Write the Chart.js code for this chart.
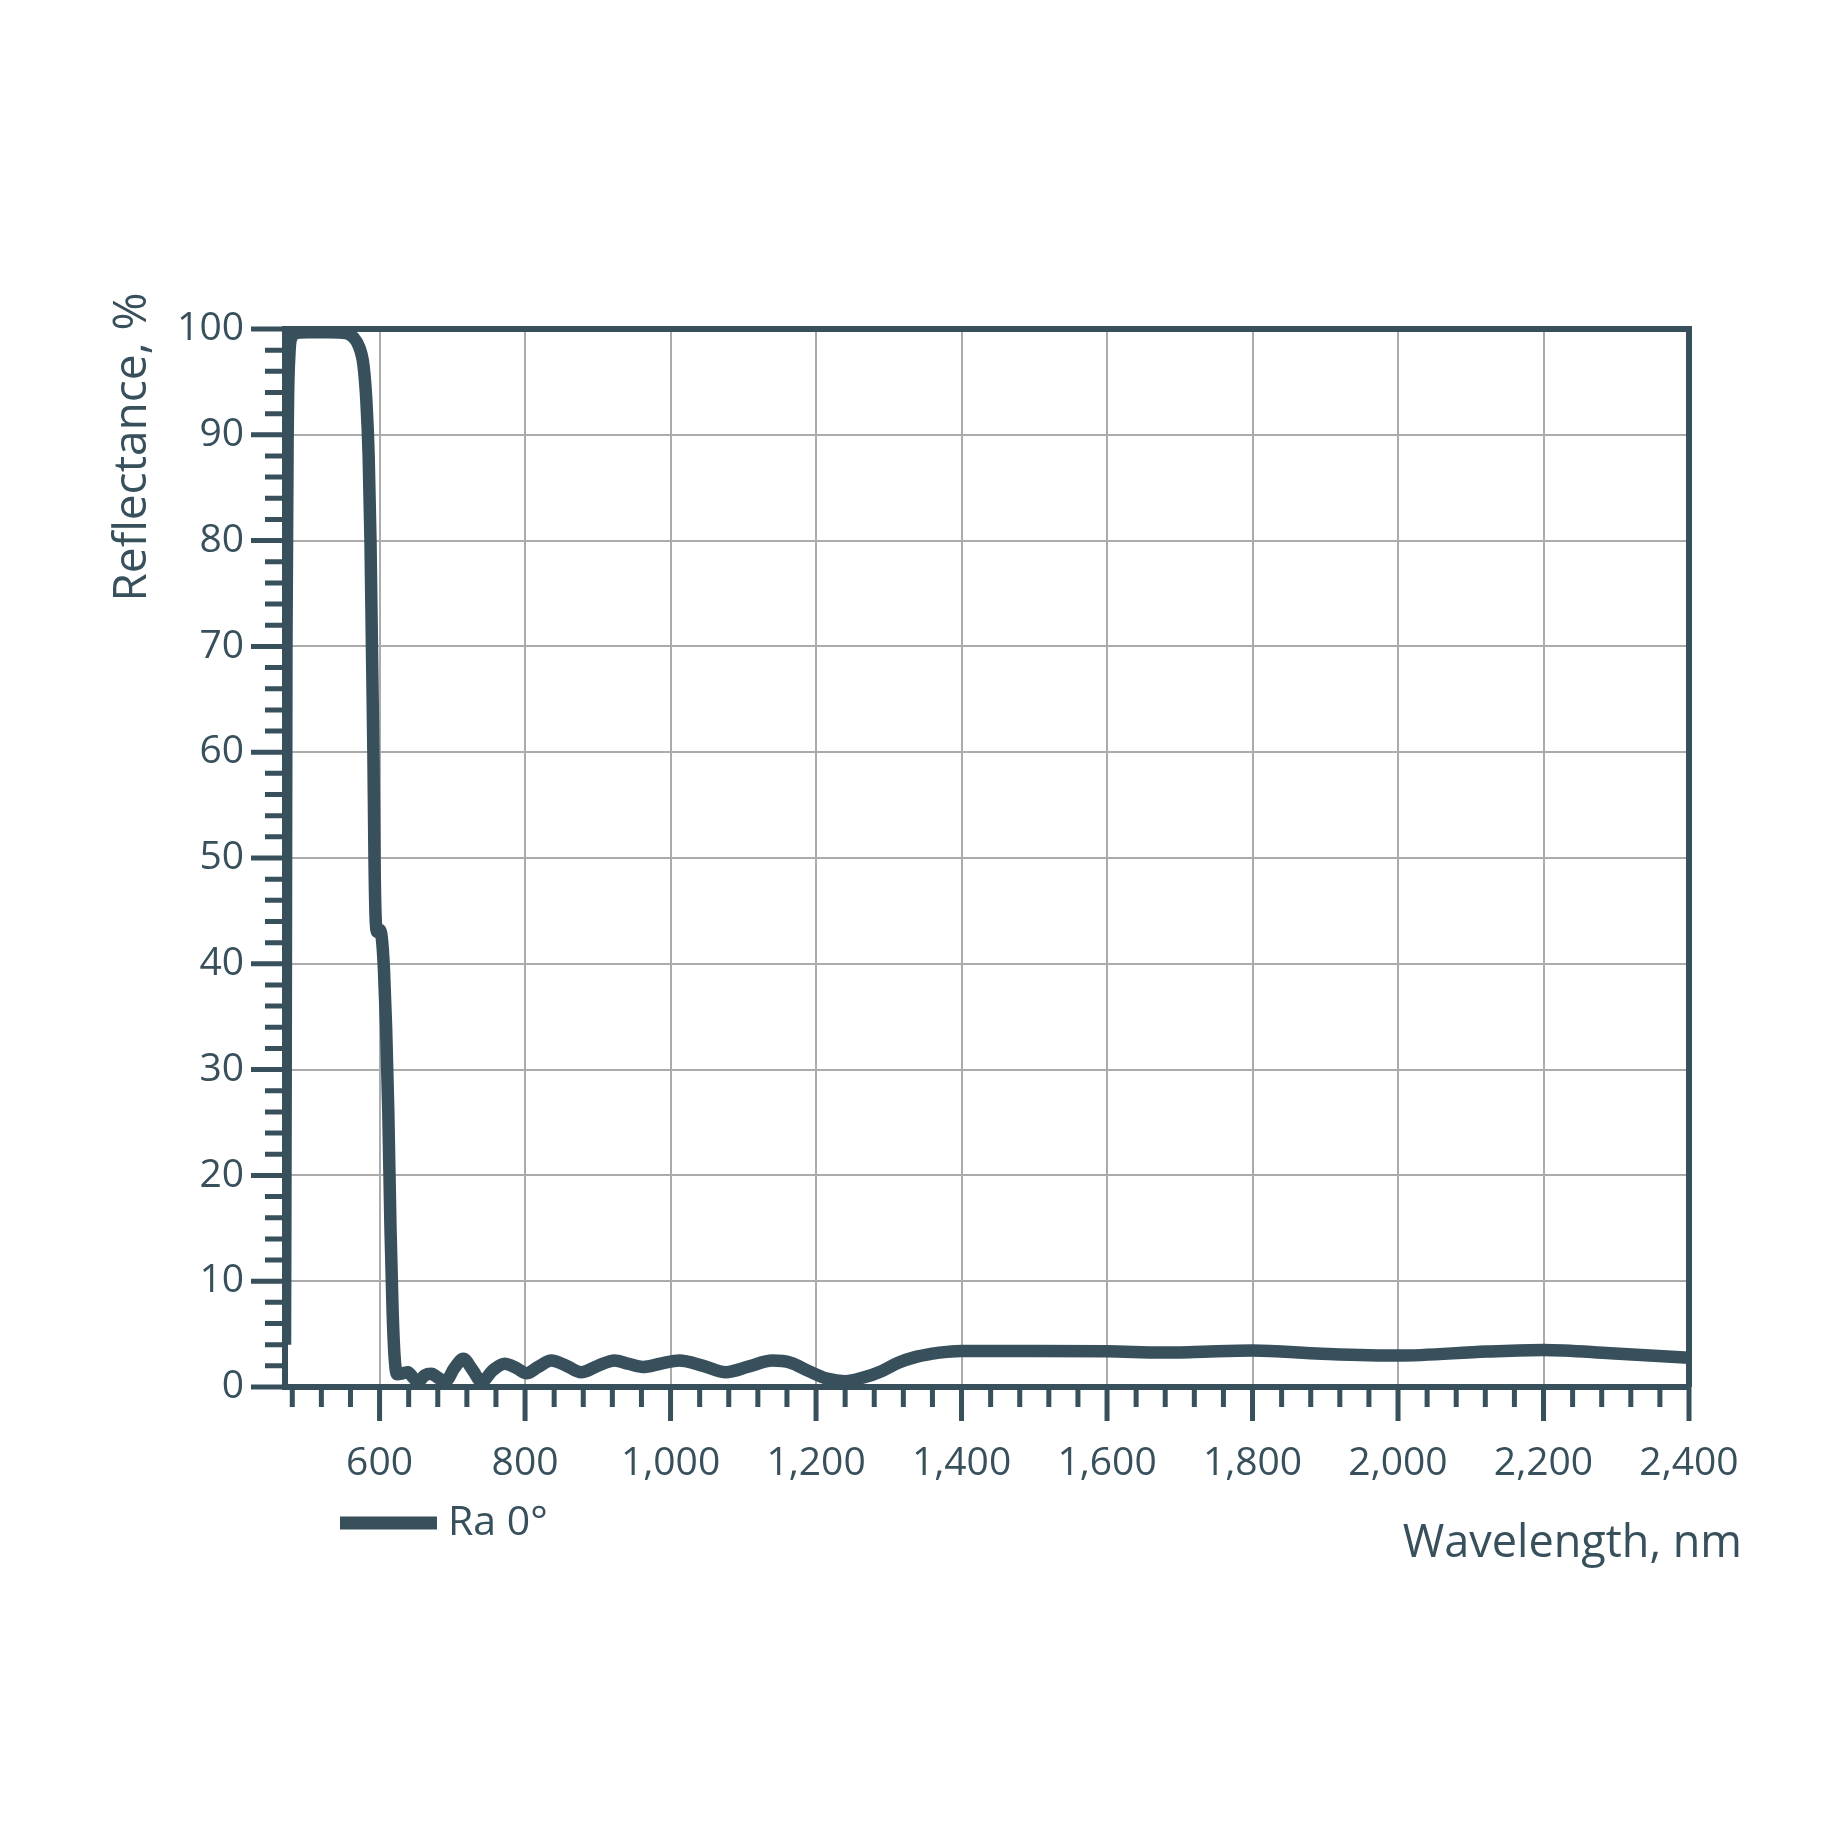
<!DOCTYPE html>
<html>
<head>
<meta charset="utf-8">
<title>Reflectance</title>
<script src="https://cdn.jsdelivr.net/npm/chart.js@4.4.1/dist/chart.umd.min.js"></script>
<style>
  html, body { margin: 0; padding: 0; background: #ffffff; }
  #wrap { width: 1848px; height: 1848px; }
</style>
</head>
<body>
<div id="wrap"><canvas id="reflectance-chart" width="1848" height="1848"></canvas></div>
<script>
// Wavelength (nm) and reflectance (%)
const wavelength = [
  470, 471, 472, 474, 476, 479, 484, 500, 530, 555, 564, 572, 578, 582, 585,
  587.5, 589.5, 591.5, 593, 594.5, 597, 600, 603, 606, 609, 612, 615, 618,
  620.5, 624, 632, 639, 646, 653, 662, 671, 680, 690, 703, 715, 728, 740,
  756, 772, 788, 802, 818, 836, 857, 877, 900, 923, 942, 962, 986, 1012,
  1045, 1076, 1108, 1140, 1165, 1190, 1215, 1240, 1265, 1290, 1313, 1335,
  1360, 1380, 1400, 1500, 1600, 1675, 1720, 1800, 1895, 2000, 2122, 2200,
  2292, 2400,
];
const reflectance = [
  4, 30, 70, 92, 97.5, 99.2, 99.6, 99.7, 99.7, 99.6, 99.2, 98.3, 96.5, 93, 88,
  80, 70, 60, 50, 44.5, 43, 43.2, 42.5, 39.5, 34, 26, 15, 7,
  3, 1.2, 1.3, 1.4, 0.9, 0.5, 1.1, 1.25, 0.9, 0.5, 1.8, 2.66, 1.6, 0.5,
  1.6, 2.2, 1.8, 1.3, 1.9, 2.5, 2.0, 1.4, 2.0, 2.5, 2.2, 1.9, 2.2, 2.5,
  2.0, 1.4, 1.95, 2.5, 2.3, 1.5, 0.8, 0.55, 0.9, 1.5, 2.3, 2.8,
  3.15, 3.32, 3.4, 3.4, 3.38, 3.25, 3.3, 3.45, 3.15, 2.97, 3.35, 3.5,
  3.2, 2.76,
];

const seriesLabel = 'Ra 0°';
const xTicks = [600, 800, 1000, 1200, 1400, 1600, 1800, 2000, 2200, 2400];
const yTicks = [0, 10, 20, 30, 40, 50, 60, 70, 80, 90, 100];
const xMinorStep = 40;
const yMinorStep = 2;

const INK = '#37505c';
const GRID = '#ababab';
const FONT = '"Open Sans", "Noto Sans", sans-serif';

// Minor / major tick marks, top and right frame, titles and legend
const frameAndTicks = {
  id: 'frameAndTicks',
  beforeDatasetsDraw(chart) {
    const { ctx, chartArea: a, scales: { x, y } } = chart;
    ctx.save();
    ctx.strokeStyle = INK;
    ctx.lineWidth = 6;
    ctx.beginPath();
    ctx.moveTo(a.left - 3, a.top);
    ctx.lineTo(a.right + 3, a.top);
    ctx.moveTo(a.right, a.top);
    ctx.lineTo(a.right, a.bottom);
    ctx.stroke();

    ctx.lineWidth = 5;
    ctx.beginPath();
    const first = Math.ceil(x.min / xMinorStep) * xMinorStep;
    for (let v = first; v <= x.max; v += xMinorStep) {
      const px = x.getPixelForValue(v);
      const len = v % 200 === 0 ? 34 : 20;
      ctx.moveTo(px, a.bottom);
      ctx.lineTo(px, a.bottom + len);
    }
    for (let v = y.min; v <= y.max; v += yMinorStep) {
      const py = y.getPixelForValue(v);
      const len = v % 10 === 0 ? 34 : 20;
      ctx.moveTo(a.left, py);
      ctx.lineTo(a.left - len, py);
    }
    ctx.stroke();
    ctx.restore();
  },
  afterDraw(chart) {
    const { ctx } = chart;
    const ds = chart.data.datasets[0];
    ctx.save();
    ctx.fillStyle = INK;

    // y title, rotated
    ctx.save();
    ctx.translate(146, 447);
    ctx.rotate(-Math.PI / 2);
    ctx.font = `46px ${FONT}`;
    ctx.textAlign = 'center';
    ctx.textBaseline = 'alphabetic';
    ctx.fillText('Reflectance, %', 0, 0);
    ctx.restore();

    // x title
    ctx.font = `45px ${FONT}`;
    ctx.textAlign = 'right';
    ctx.textBaseline = 'alphabetic';
    ctx.fillText('Wavelength, nm', 1742, 1557);

    // legend
    ctx.strokeStyle = ds.borderColor;
    ctx.lineWidth = 13;
    ctx.beginPath();
    ctx.moveTo(340, 1523);
    ctx.lineTo(437, 1523);
    ctx.stroke();
    ctx.font = `41px ${FONT}`;
    ctx.textAlign = 'left';
    ctx.fillText(ds.label, 448, 1535);
    ctx.restore();
  },
};

new Chart(document.getElementById('reflectance-chart'), {
  type: 'line',
  data: {
    datasets: [
      {
        label: seriesLabel,
        data: wavelength.map((w, i) => ({ x: w, y: reflectance[i] })),
        borderColor: INK,
        borderWidth: 12.5,
        pointRadius: 0,
        fill: false,
        cubicInterpolationMode: 'monotone',
        borderJoinStyle: 'round',
      },
    ],
  },
  options: {
    responsive: false,
    devicePixelRatio: 1,
    animation: false,
    layout: { padding: { left: 0, right: 159, top: 329, bottom: 341 } },
    plugins: { legend: { display: false }, tooltip: { enabled: false } },
    scales: {
      x: {
        type: 'linear',
        min: 470,
        max: 2400,
        afterBuildTicks: (s) => { s.ticks = xTicks.map((v) => ({ value: v })); },
        afterFit: (s) => { s.height = 120; },
        grid: { color: GRID, lineWidth: 2, drawTicks: false },
        border: { color: INK, width: 6 },
        ticks: {
          color: INK,
          font: { family: FONT, size: 39 },
          padding: 53,
          maxRotation: 0,
          callback: (v) => Number(v).toLocaleString('en-US'),
        },
      },
      y: {
        min: 0,
        max: 100,
        afterBuildTicks: (s) => { s.ticks = yTicks.map((v) => ({ value: v })); },
        afterFit: (s) => { s.width = 285; },
        grid: { color: GRID, lineWidth: 2, drawTicks: false },
        border: { color: INK, width: 6 },
        ticks: {
          color: INK,
          font: { family: FONT, size: 39 },
          padding: 41,
        },
      },
    },
  },
  plugins: [frameAndTicks],
});
</script>
</body>
</html>
